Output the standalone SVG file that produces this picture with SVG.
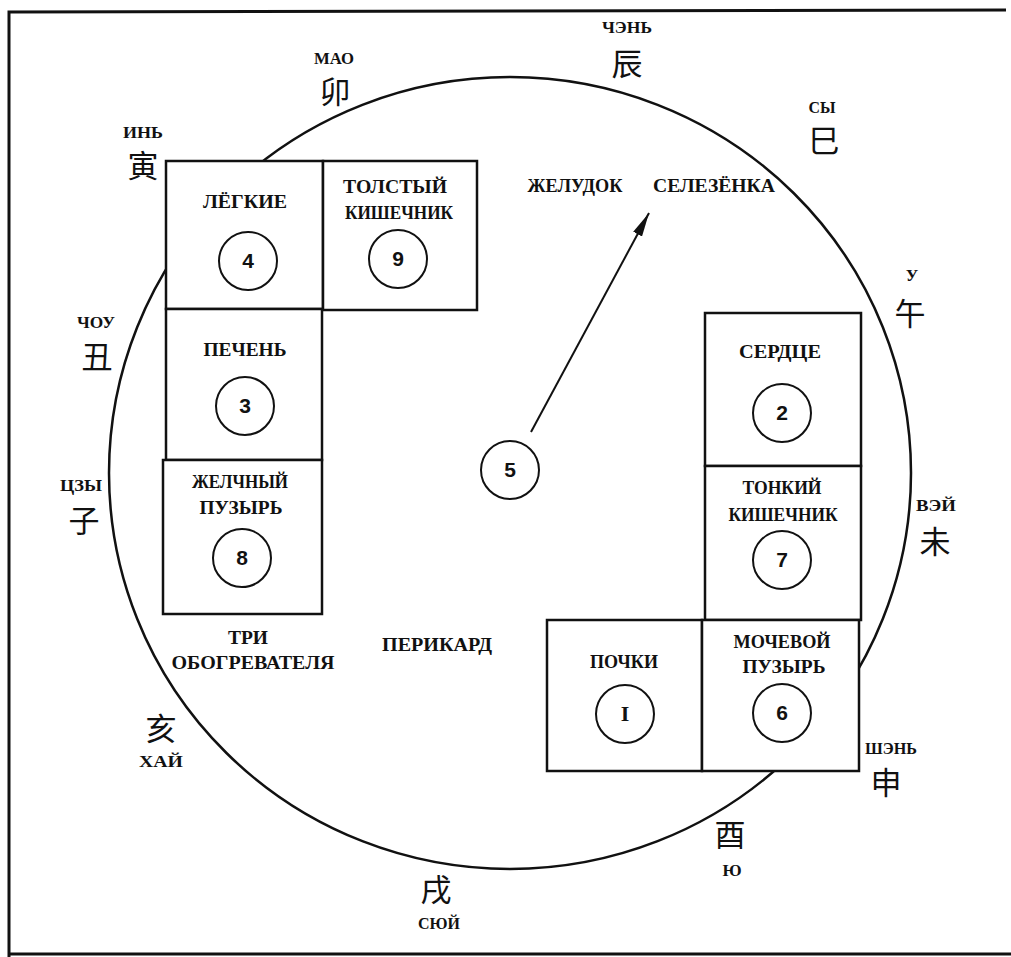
<svg xmlns="http://www.w3.org/2000/svg" width="1011" height="957" viewBox="0 0 1011 957">
<style>
.frame{fill:none;stroke:#111;stroke-width:3}
.wheel{fill:none;stroke:#111;stroke-width:2.5}
.box{fill:#fff;stroke:#111;stroke-width:2.5}
.num{fill:#fff;stroke:#111;stroke-width:2}
.lbl{font-family:"Liberation Serif","DejaVu Serif",serif;font-weight:bold;font-size:18px;fill:#111;text-anchor:middle}
.sm{font-family:"Liberation Serif","DejaVu Serif",serif;font-weight:bold;font-size:17px;fill:#111;text-anchor:middle}
.cjk{font-family:"Noto Sans CJK SC","Noto Sans CJK TC",sans-serif;font-size:31px;fill:#111;text-anchor:middle}
.dig{font-family:"Liberation Sans","DejaVu Sans",sans-serif;font-weight:bold;font-size:21px;fill:#111;text-anchor:middle}
.rom{font-family:"Liberation Serif",serif;font-weight:bold;font-size:22px;fill:#111;text-anchor:middle}
.conn{fill:none;stroke:#111;stroke-width:2}
</style>
<defs>
<marker id="ah" viewBox="0 0 24 10" refX="24" refY="5" markerWidth="24" markerHeight="10" markerUnits="userSpaceOnUse" orient="auto">
<path d="M0,0 L24,5 L0,10 z" fill="#111"/>
</marker>
</defs>
<rect width="1011" height="957" fill="#fff"/>
<path class="frame" d="M9,957 L9,12 L1006,10 M9,954 L1011,954"/>
<ellipse class="wheel" cx="510" cy="473" rx="401" ry="396"/>

<g id="lungs"><rect class="box" x="166" y="161" width="157" height="148"/><text class="lbl" x="245" y="208" textLength="84" lengthAdjust="spacingAndGlyphs">ЛЁГКИЕ</text><circle class="num" cx="248" cy="261" r="29"/><text class="dig" x="248" y="268">4</text></g>
<g id="colon"><rect class="box" x="323" y="161" width="154" height="149"/><text class="lbl" x="395" y="193" textLength="104" lengthAdjust="spacingAndGlyphs">ТОЛСТЫЙ</text><text class="lbl" x="399" y="219" textLength="108" lengthAdjust="spacingAndGlyphs">КИШЕЧНИК</text><circle class="num" cx="398" cy="259" r="29"/><text class="dig" x="398" y="266">9</text></g>
<g id="liver"><rect class="box" x="166" y="309" width="156" height="151"/><text class="lbl" x="245" y="356" textLength="83" lengthAdjust="spacingAndGlyphs">ПЕЧЕНЬ</text><circle class="num" cx="245" cy="406" r="29"/><text class="dig" x="245" y="413">3</text></g>
<g id="gallbladder"><rect class="box" x="163" y="460" width="159" height="154"/><text class="lbl" x="240" y="488" textLength="96" lengthAdjust="spacingAndGlyphs">ЖЕЛЧНЫЙ</text><text class="lbl" x="241" y="514" textLength="83" lengthAdjust="spacingAndGlyphs">ПУЗЫРЬ</text><circle class="num" cx="242" cy="558" r="29"/><text class="dig" x="242" y="565">8</text></g>
<g id="heart"><rect class="box" x="705" y="313" width="156" height="153"/><text class="lbl" x="780" y="358" textLength="82" lengthAdjust="spacingAndGlyphs">СЕРДЦЕ</text><circle class="num" cx="782" cy="413" r="29"/><text class="dig" x="782" y="420">2</text></g>
<g id="smallintestine"><rect class="box" x="705" y="466" width="156" height="154"/><text class="lbl" x="782" y="494" textLength="79" lengthAdjust="spacingAndGlyphs">ТОНКИЙ</text><text class="lbl" x="783" y="521" textLength="109" lengthAdjust="spacingAndGlyphs">КИШЕЧНИК</text><circle class="num" cx="782" cy="560" r="29"/><text class="dig" x="782" y="567">7</text></g>
<g id="kidneys"><rect class="box" x="547" y="620" width="155" height="151"/><text class="lbl" x="624" y="668" textLength="68" lengthAdjust="spacingAndGlyphs">ПОЧКИ</text><circle class="num" cx="625" cy="714" r="29"/><text class="rom" x="625" y="721">I</text></g>
<g id="bladder"><rect class="box" x="702" y="620" width="157" height="151"/><text class="lbl" x="782" y="648" textLength="97" lengthAdjust="spacingAndGlyphs">МОЧЕВОЙ</text><text class="lbl" x="784" y="673" textLength="83" lengthAdjust="spacingAndGlyphs">ПУЗЫРЬ</text><circle class="num" cx="782" cy="713" r="29"/><text class="dig" x="782" y="720">6</text></g>
<g id="center5"><circle class="num" cx="510" cy="470" r="29"/><text class="dig" x="510" y="477">5</text></g>
<g id="stomach"><text class="lbl" x="575" y="192" textLength="95" lengthAdjust="spacingAndGlyphs">ЖЕЛУДОК</text></g>
<g id="spleen"><text class="lbl" x="714" y="192" textLength="122" lengthAdjust="spacingAndGlyphs">СЕЛЕЗЁНКА</text></g>
<g id="tripleheater"><text class="lbl" x="248" y="644" textLength="40" lengthAdjust="spacingAndGlyphs">ТРИ</text><text class="lbl" x="253" y="669" textLength="163" lengthAdjust="spacingAndGlyphs">ОБОГРЕВАТЕЛЯ</text></g>
<g id="pericardium"><text class="lbl" x="437" y="651" textLength="110" lengthAdjust="spacingAndGlyphs">ПЕРИКАРД</text></g>

<g id="branch-mao"><text class="sm" x="334" y="64" textLength="40" lengthAdjust="spacingAndGlyphs">МАО</text><text class="cjk" x="335" y="103">卯</text></g>
<g id="branch-chen"><text class="sm" x="627" y="33" textLength="50" lengthAdjust="spacingAndGlyphs">ЧЭНЬ</text><text class="cjk" x="627" y="75">辰</text></g>
<g id="branch-sy"><text class="sm" x="822" y="113" textLength="27" lengthAdjust="spacingAndGlyphs">СЫ</text><text class="cjk" x="824" y="152">巳</text></g>
<g id="branch-in"><text class="sm" x="143" y="138" textLength="40" lengthAdjust="spacingAndGlyphs">ИНЬ</text><text class="cjk" x="143" y="177">寅</text></g>
<g id="branch-u"><text class="sm" x="912" y="281">У</text><text class="cjk" x="910" y="325">午</text></g>
<g id="branch-chou"><text class="sm" x="96" y="328" textLength="38" lengthAdjust="spacingAndGlyphs">ЧОУ</text><text class="cjk" x="97" y="368">丑</text></g>
<g id="branch-czy"><text class="sm" x="81" y="491" textLength="42" lengthAdjust="spacingAndGlyphs">ЦЗЫ</text><text class="cjk" x="84" y="532">子</text></g>
<g id="branch-vey"><text class="sm" x="936" y="511" textLength="40" lengthAdjust="spacingAndGlyphs">ВЭЙ</text><text class="cjk" x="935" y="553">未</text></g>
<g id="branch-shen"><text class="sm" x="891" y="754" textLength="52" lengthAdjust="spacingAndGlyphs">ШЭНЬ</text><text class="cjk" x="886" y="794">申</text></g>
<g id="branch-yu"><text class="cjk" x="730" y="846">酉</text><text class="sm" x="732" y="876">Ю</text></g>
<g id="branch-hay"><text class="cjk" x="161" y="740">亥</text><text class="sm" x="161" y="767" textLength="44" lengthAdjust="spacingAndGlyphs">ХАЙ</text></g>
<g id="branch-syuy"><text class="cjk" x="436" y="901">戌</text><text class="sm" x="439" y="929" textLength="42" lengthAdjust="spacingAndGlyphs">СЮЙ</text></g>

<g id="connectors"><line class="conn" x1="531" y1="432" x2="649" y2="213" marker-end="url(#ah)"/></g>
</svg>
